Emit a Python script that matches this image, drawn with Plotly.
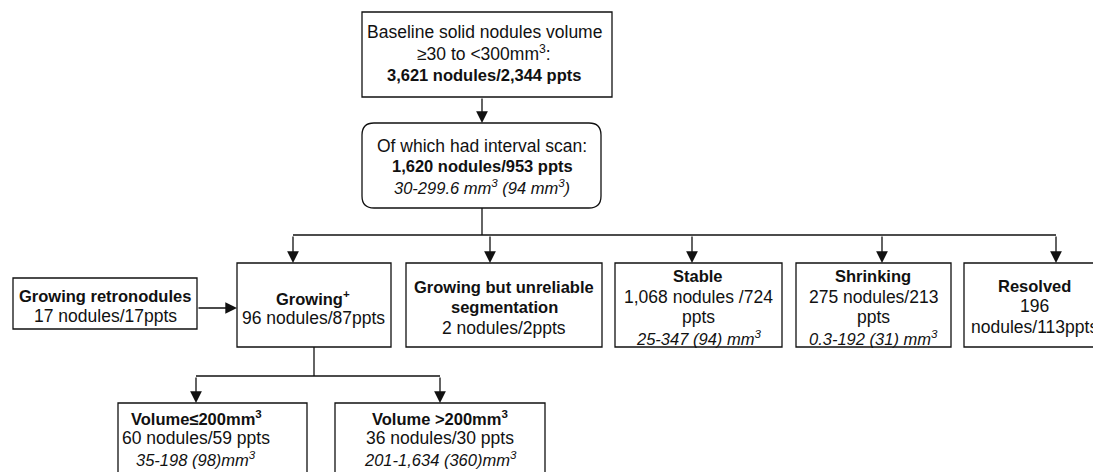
import plotly.graph_objects as go

# ---------------- data: node texts ----------------
node_ids = ["baseline", "interval", "retro", "growing", "unreliable",
            "stable", "shrinking", "resolved", "vol_low", "vol_high"]

node_titles = [
    "Baseline solid nodules volume<br>≥30 to <300mm<sup>3</sup>:",
    "Of which had interval scan:",
    "Growing retronodules",
    "Growing<sup>+</sup>",
    "Growing but unreliable<br>segmentation",
    "Stable",
    "Shrinking",
    "Resolved",
    "Volume≤200mm<sup>3</sup>",
    "Volume >200mm<sup>3</sup>",
]

node_counts = [
    "3,621 nodules/2,344 ppts",
    "1,620 nodules/953 ppts",
    "17 nodules/17ppts",
    "96 nodules/87ppts",
    "2 nodules/2ppts",
    "1,068 nodules /724<br>ppts",
    "275 nodules/213<br>ppts",
    "196<br>nodules/113ppts",
    "60 nodules/59 ppts",
    "36 nodules/30 ppts",
]

node_ranges = [
    "",
    "30-299.6 mm<sup>3</sup> (94 mm<sup>3</sup>)",
    "",
    "",
    "",
    "25-347 (94) mm<sup>3</sup>",
    "0.3-192 (31) mm<sup>3</sup>",
    "",
    "35-198 (98)mm<sup>3</sup>",
    "201-1,634 (360)mm<sup>3</sup>",
]

# ---------------- layout / style ----------------
W, H = 1093, 472
FONT = "Liberation Sans, Arial, sans-serif"
FS = 17.5        # regular text
FS_BOLD = 16.5   # bold text
FS_ITAL = 16.5   # italic range text
LINE_H = 20.5    # line spacing (px)
INK = "#111111"
LW = 1.3

title_bold = {"baseline": False, "interval": False}
counts_bold = {"baseline": True, "interval": True}

boxes = {
    "baseline":   (362, 12, 612, 97),
    "interval":   (362, 123, 601, 208),
    "retro":      (13, 278, 197, 329),
    "growing":    (237, 263, 391, 347),
    "unreliable": (406, 263, 602, 347),
    "stable":     (615, 263, 782, 347),
    "shrinking":  (796, 263, 951, 347),
    "resolved":   (964, 263, 1110, 347),
    "vol_low":    (118, 403, 307, 500),
    "vol_high":   (335, 403, 545, 500),
}
rounded = {"interval"}
text_pos = {
    "baseline":   (484, 53),
    "interval":   (482, 166),
    "retro":      (105, 306),
    "growing":    (313, 308),
    "unreliable": (504, 307),
    "stable":     (698, 307),
    "shrinking":  (873, 307),
    "resolved":   (1034, 306),
    "vol_low":    (196, 438),
    "vol_high":   (440, 438),
}
line_h = {"baseline": 21.5}

# plain connector lines (no arrowhead)
lines = [
    [(482, 208), (482, 235)],
    [(293, 235), (1056, 235)],
    [(314, 347), (314, 376)],
    [(196, 376), (440, 376)],
]
# arrows: (start, tip)
arrows = [
    ((482, 97), (482, 123)),
    ((293, 235), (293, 263)),
    ((490, 235), (490, 263)),
    ((692, 235), (692, 263)),
    ((882, 235), (882, 263)),
    ((1056, 235), (1056, 263)),
    ((197, 308), (237, 308)),
    ((196, 376), (196, 403)),
    ((440, 376), (440, 403)),
]

fig = go.Figure()
shapes = []
annotations = []


def rounded_path(x0, y0, x1, y1, r=12):
    return (f"M{x0 + r},{y0} L{x1 - r},{y0} Q{x1},{y0} {x1},{y0 + r} "
            f"L{x1},{y1 - r} Q{x1},{y1} {x1 - r},{y1} L{x0 + r},{y1} "
            f"Q{x0},{y1} {x0},{y1 - r} L{x0},{y0 + r} Q{x0},{y0} {x0 + r},{y0} Z")


for nid, title, cnt, rng in zip(node_ids, node_titles, node_counts, node_ranges):
    x0, y0, x1, y1 = boxes[nid]
    if nid in rounded:
        shapes.append(dict(type="path", path=rounded_path(x0, y0, x1, y1),
                           xref="x", yref="y", line=dict(color=INK, width=LW),
                           fillcolor="white", layer="below"))
    else:
        shapes.append(dict(type="rect", x0=x0, y0=y0, x1=x1, y1=y1,
                           xref="x", yref="y", line=dict(color=INK, width=LW),
                           fillcolor="white", layer="below"))
    rows = []
    tb = title_bold.get(nid, True)
    for p in title.split("<br>"):
        rows.append((f"<b>{p}</b>" if tb else p, FS_BOLD if tb else FS))
    cb = counts_bold.get(nid, False)
    for p in cnt.split("<br>"):
        rows.append((f"<b>{p}</b>" if cb else p, FS_BOLD if cb else FS))
    if rng:
        rows.append((f"<i>{rng}</i>", FS_ITAL))
    tx, ty = text_pos[nid]
    lh = line_h.get(nid, LINE_H)
    n = len(rows)
    for i, (txt, fs) in enumerate(rows):
        yy = ty + (i - (n - 1) / 2) * lh
        annotations.append(dict(x=tx, y=yy, xref="x", yref="y", text=txt,
                                showarrow=False, xanchor="center", yanchor="middle",
                                font=dict(family=FONT, size=fs, color=INK)))

for seg in lines:
    (xa, ya), (xb, yb) = seg
    shapes.append(dict(type="line", x0=xa, y0=ya, x1=xb, y1=yb, xref="x", yref="y",
                       line=dict(color=INK, width=LW)))

for (sx, sy), (tx, ty) in arrows:
    annotations.append(dict(x=tx, y=ty, ax=sx, ay=sy, xref="x", yref="y",
                            axref="x", ayref="y", text="", showarrow=True,
                            arrowhead=2, arrowsize=1.8, arrowwidth=LW,
                            arrowcolor=INK, standoff=0, startstandoff=0))

fig.update_layout(
    width=W, height=H,
    margin=dict(l=0, r=0, t=0, b=0),
    paper_bgcolor="white", plot_bgcolor="white",
    xaxis=dict(range=[0, W], visible=False, fixedrange=True),
    yaxis=dict(range=[H, 0], visible=False, fixedrange=True),
    shapes=shapes, annotations=annotations,
    showlegend=False,
)

fig.write_html("out.html", config={"displayModeBar": False},
               post_script="document.body.style.margin='0';")
